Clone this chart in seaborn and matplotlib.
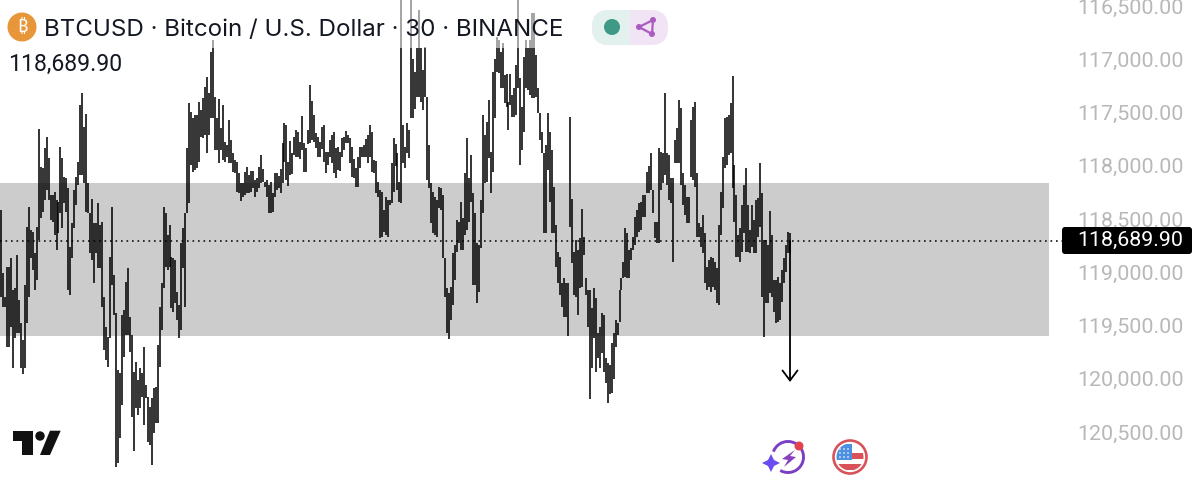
import matplotlib
matplotlib.use("Agg")
import matplotlib.pyplot as plt
from matplotlib.patches import Circle, FancyBboxPatch, Polygon, Rectangle, Arc
import seaborn as sns
import pandas as pd

# 30 minute bars in sections from left to right
highs_1 = [118416,119011,119230,118948,118948,118870,119168,119152,118839,119261,119481,119637,119121,118573,118385,118604,118620,118823,118573,117659,118009,118025,117837,117734,117931,118275,118275,118244,118322,118338,117822,117931,118103,118119,118213,118761,118542,118229,118103,117962,117430,117315,117634,117515,118166,118448,118316,118542,118542,118347,118557,118526,119230,119512,119606,118855,118385,119027]
lows_1 = [119230,119324,119324,119700,119700,119512,119903,119621,119574,119574,119903,119959,119903,119481,119230,118870,118980,119168,119074,118698,118495,118432,118322,118229,118322,118510,118526,118651,118792,118635,118448,118588,118354,118432,119168,119214,118870,118588,118369,118182,118088,118088,118166,118432,118448,118823,118886,119105,118823,118964,118964,119324,119731,119825,119887,119621,119121,119402]

highs_2 = [119387,119919,119950,119402,119355,119089,118964,119418,119590,119934,119840,120013,119903,119950,119700,120060,120169,120263,120185,120091,120075,119684,119324,119105,118385,118448,118651,118557,118855,118870,118886,119183,119308,118729,118588,118448,117837,117415,117493,117556,117524,117524,117399,117477,117368,117258,117164,117321,116930,116820,117352,117556,117377,117649,117430,117775,117806,117571,117759,117884]
lows_2 = [120826,120795,120560,120247,119794,119590,119590,119747,120357,120676,120279,120341,120279,120169,120435,120185,120592,120623,120811,120513,120420,120420,119887,119543,119152,118948,118980,118948,119340,119371,119293,119449,119621,119543,118964,119324,118448,118354,117994,118056,118041,118025,117962,117728,117743,117712,117884,117712,117556,117556,117853,117853,117978,117853,117947,117962,117916,117978,117978,118056]

highs_3 = [117947,117962,118072,118166,118166,118056,118016,118088,118047,118047,118135,118119,118009,117900,118034,118150,118135,118182,118150,118260,118066,118066,118097,118034,117790,117596,117618,117962,117768,117884,117734,117665,117681,117775,117534,117790,117837,117665,117243,117393,117524,117696,117728,117775,117634,117618,117869,117869,117759,117712,117681,117837,117822,117869,117743,117728,117671]
lows_3 = [118072,118244,118260,118332,118291,118275,118260,118260,118244,118213,118291,118244,118213,118166,118150,118197,118291,118448,118448,118432,118291,118229,118213,118254,118166,117962,118135,118191,118088,118081,117900,117916,117916,117941,117853,118056,118056,117797,117790,117759,117775,117837,117916,117916,117847,117962,118072,117994,117916,117978,118066,118119,118041,118047,117916,117853,117790]

highs_4 = [117712,117743,117821,117940,118025,117915,117821,117821,117806,117752,117712,117618,117680,117946,117953,118150,118228,118244,118416,118291,118322,118322,117971,117737,117796,117884,118150,116444,117618,117821,117602,117665,116444,117001,117117,116898,116538,116898,117101,116882,117352,117806,118166,118244,118291,118322,118197,118212,118275,118870,119151,119198,119136,118823,118745,118510,118525,118338]
lows_4 = [117790,117978,118103,118119,118197,118203,118025,117915,117915,117915,117978,117915,118056,118072,118259,118291,118682,118666,118619,118651,118673,118369,118353,118244,118000,118228,118338,118347,117978,118025,117884,117931,117555,117555,117471,117352,117352,117399,117477,117352,118134,118212,118541,118635,118651,118666,118400,118416,118870,119230,119574,119630,119449,119308,119073,118807,118729,118792]

highs_5 = [118494,118072,117743,118119,117899,118259,118447,118729,118745,118322,117524,117712,117586,117383,117868,117117,117001,116788,116820,116929,116851,117148,117139,117399,117139,117336,117273,117054,116444,117180,117446,116976,116820,116898,116820,116569,116569,116960,117273,117508,117680,117884,117806,117508,117680,117853,118197,118557,118807,118854,119105,119058,119105,119098,117540,118316,118807,118698]
lows_5 = [118792,118651,118604,118525,118338,119120,119120,119292,119183,118776,118447,118166,118150,117931,118253,118056,117555,117117,117133,117273,117273,117414,117446,117665,117430,117540,117540,117524,117273,117993,117852,117680,117273,117289,117336,117367,117367,117352,117508,117759,117884,118635,118635,118040,118338,118635,118635,118948,119105,119214,119324,119418,119418,119596,118572,118917,119214,119230]

highs_6 = [118791,118682,118409,118666,119057,119167,119167,119339,119151,119245,119574,119511,119380,119401,119808,119855,119871,119661,119574,119448,119480,119167,119057,118901,118588,118635,118791,118775,118666,118484,118416,118353,118337,118275,118275,118056,118002,117883,118228,118525,118525,117836,117868,117883,117320,117883,117899,118118,118118,117758,117649,117383,117461,118071,118181,118290,118290,117570]
lows_6 = [119401,119151,119135,118838,119214,119511,120190,119902,119621,119934,119808,119902,119761,119934,120043,120231,120146,120137,120006,119699,119589,119464,119167,119057,119042,119057,119057,118885,118791,118744,118666,118619,118603,118478,118478,118259,118259,118228,118447,118682,118729,118729,118228,118165,118087,118181,118322,118353,118901,117977,117977,117977,118181,118369,118462,118541,118541,118102]

highs_7 = [117445,117398,118071,118541,118572,118462,118635,118948,118885,118860,118869,118901,118963,118556,118243,117915,117555,117539,117523,117414,117157,117993,118275,118650,118588,118369,118181,118024,118369,118603,118369,118509,118322,118306,117971,118259,118697,118697,118744,118422,118650,119073,119073,119042,119104,118979,118869,118744,118619,118635]
lows_7 = [118134,118196,118666,118666,118760,118822,119104,119167,119135,119182,119135,119167,119292,119308,118650,118400,118024,117993,117899,117883,118212,118525,118854,118854,118901,118807,118635,118807,118807,118822,118760,118822,118822,118666,118572,119229,119605,119292,119292,119198,119229,119370,119480,119464,119448,119276,119104,118994,118822,118822]

price_ticks = [116500, 117000, 117500, 118000, 118500, 119000, 119500, 120000, 120500]
last_label = "118,689.90"
last_line = 118705   # the dotted line sits a touch under the tick scale in the picture
band_top = 118162
band_bottom = 119599
arrow_target = 120031

highs = highs_1 + highs_2 + highs_3 + highs_4 + highs_5 + highs_6 + highs_7
lows = lows_1 + lows_2 + lows_3 + lows_4 + lows_5 + lows_6 + lows_7

sns.set_theme(style="white")
plt.rcParams["font.family"] = ["Roboto", "DejaVu Sans"]

# long table: one high and one low row per bar, units keeps the bars separate
df = pd.DataFrame({
    "bar": list(range(len(highs))) * 2,
    "price": highs + lows,
})

fig = plt.figure(figsize=(12, 4.87), dpi=100)
ax = fig.add_axes([0, 0, 1062 / 1200, 1])
ax.axhspan(band_top, band_bottom, xmin=0, xmax=1049 / 1062, color="#cccccc", lw=0, zorder=1)
sns.lineplot(data=df, x="bar", y="price", units="bar", estimator=None, color="black",
             lw=1.12, solid_capstyle="butt", legend=False, ax=ax, zorder=3)
ax.axhline(last_line, color="#111111", lw=1.2, ls=(0, (1, 2.3)), zorder=2)

dx = 789 / (len(highs) - 1)
ax.set_xlim(-1 / dx, 1061 / dx)
ax.set_ylim(121017, 116444)
ax.set_xlabel("")
ax.set_ylabel("")
ax.set_xticks([])
ax.yaxis.tick_right()
ax.set_yticks(price_ticks)
ax.set_yticklabels([f"{p:,.2f}" for p in price_ticks])
ax.tick_params(axis="y", length=0, pad=11, labelsize=15.4, labelcolor="#b8b8b8")
for lab in ax.get_yticklabels():
    lab.set_verticalalignment("center_baseline")
sns.despine(ax=ax, left=True, right=True, top=True, bottom=True)

# arrow down from the last bar
ax.annotate("", xy=(len(highs) - 1, arrow_target), xytext=(len(highs) - 1, last_line),
            arrowprops=dict(arrowstyle="->,head_length=0.6,head_width=0.45", color="black",
                            lw=1.3, shrinkA=0, shrinkB=0), zorder=4)

# overlay in image pixels for the header, price tag and the little icons
ov = fig.add_axes([0, 0, 1, 1], zorder=5)
ov.set_xlim(0, 1200)
ov.set_ylim(487, 0)
ov.axis("off")

ov.add_patch(Rectangle((0, 0), 575, 48, color="white", alpha=0.55, lw=0))

ov.add_patch(Circle((22, 27), 14.5, color="#e8963a", lw=0))
ov.text(22, 27.5, "\u20bf", color="white", fontsize=13, fontweight="bold", ha="center", va="center",
        family=["Noto Sans", "Inter", "Open Sans", "Lato", "Roboto", "DejaVu Sans"])
ov.text(44, 36, "BTCUSD \u00b7 Bitcoin / U.S. Dollar \u00b7 30 \u00b7 BINANCE", color="#131722",
        fontsize=17.4, va="baseline", ha="left", family=["Inter", "DejaVu Sans"])
ov.text(8, 71, last_label, color="#131722", fontsize=16.6, va="baseline", ha="left")

# status pill
pill_r = FancyBboxPatch((592 + 17, 10 + 17), 76 - 34, 1, boxstyle="round,pad=17", color="#f0e4f5", lw=0)
ov.add_patch(pill_r)
pill_l = FancyBboxPatch((592 + 17, 10 + 17), 76 - 34, 1, boxstyle="round,pad=17", color="#e2f1ee", lw=0)
ov.add_patch(pill_l)
pill_l.set_clip_path(Rectangle((590, 5), 40, 45, transform=ov.transData))
ov.add_patch(Circle((612, 27), 8, color="#3f9a85", lw=0))
tri = [(639, 27), (653, 20), (652, 34)]
ov.add_patch(Polygon(tri, closed=True, fill=False, ec="#ab5cc0", lw=1.6))
for cx, cy in tri:
    ov.add_patch(Circle((cx, cy), 3, color="#ab5cc0", lw=0))

# price tag
ov.add_patch(FancyBboxPatch((1065, 230), 124, 21, boxstyle="round,pad=3", color="black", lw=0))
ov.text(1077, 240.5, last_label, color="white", fontsize=15.4, va="center", ha="left")

# tradingview logo
ov.add_patch(Polygon([(12.7, 430.7), (32.7, 430.7), (32.7, 455), (22.3, 455), (22.3, 441), (12.7, 441)],
                     color="#111111", lw=0))
ov.add_patch(Circle((40, 436), 4.7, color="#111111", lw=0))
ov.add_patch(Polygon([(50, 430.7), (60.7, 430.7), (50, 455), (40, 455)], color="#111111", lw=0))

# flash icon
ov.add_patch(Arc((788, 457), 31, 31, theta1=-160, theta2=120, color="#7a3fc4", lw=2.1))
ov.add_patch(Polygon([(771, 454), (774, 460), (780, 463), (774, 466), (771, 472), (768, 466), (762, 463), (768, 460)],
                     color="#6a4df0", lw=0))
ov.add_patch(Polygon([(795, 450), (782, 459), (788, 460), (784, 467), (796, 457), (790, 456)],
                     color="#8a3fc0", lw=0))
ov.add_patch(Circle((799, 446), 4.5, color="#e0444f", lw=0))

# flag icon
ov.add_patch(Circle((850, 457), 16.5, fc="white", ec="#d9525a", lw=1.9))
clip = Circle((850, 457), 13.5, transform=ov.transData)
for rect in [Rectangle((850, 453), 15, 6, color="#d9525a", lw=0),
             Rectangle((836, 464), 28, 6, color="#d9525a", lw=0),
             Rectangle((836, 444), 16, 16, color="#4d8fe0", lw=0)]:
    ov.add_patch(rect)
    rect.set_clip_path(clip)
for cx in (840, 844, 848):
    for cy in (449, 453, 457):
        ov.add_patch(Circle((cx, cy), 0.8, color="white", lw=0))

fig.savefig("out.png", dpi=100)
